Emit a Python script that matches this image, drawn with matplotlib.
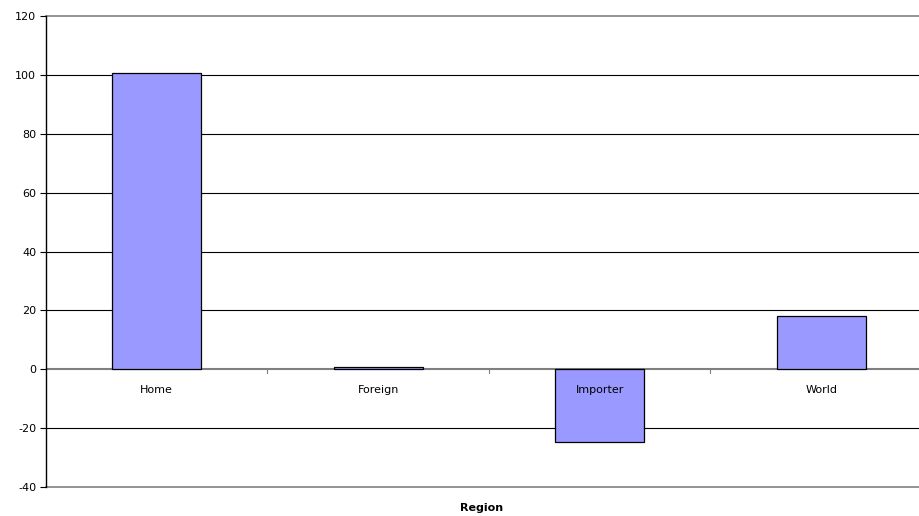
import matplotlib
matplotlib.use("Agg")
import matplotlib.pyplot as plt

regions = ["Home", "Foreign", "Importer", "World"]
values = [100.5, 0.6, -24.8, 18.0]
y_ticks = [-40, -20, 0, 20, 40, 60, 80, 100, 120]

plt.rcParams["font.family"] = ["DejaVu Sans"]

fig = plt.figure(figsize=(9.2, 5.16), dpi=100)
# plot area runs slightly past the right edge of the canvas
ax = fig.add_axes([46 / 920, 1 - 487 / 516, 886 / 920, (487 - 16) / 516])

x = list(range(len(regions)))
ax.bar(x, values, width=0.40, color="#9999FF", edgecolor="#000000", linewidth=0.9, zorder=3)

ax.set_xlim(-0.5, len(regions) - 0.5)
ax.set_ylim(-40, 120)
ax.set_yticks(y_ticks)
ax.set_yticklabels([str(v) for v in y_ticks], fontsize=8)
ax.tick_params(axis="y", length=4, width=0.8, color="#000000", pad=3)

# horizontal gridlines
for v in y_ticks:
    if v in (0, 120, -40):
        continue
    ax.axhline(v, color="#000000", linewidth=0.8, zorder=1)
for v in (120, -40):
    ax.axhline(v, color="#808080", linewidth=1.2, zorder=1, clip_on=False)

# category axis drawn at zero
ax.axhline(0, color="#808080", linewidth=1.5, zorder=2)
ax.set_xticks([])
for b in [0.5, 1.5, 2.5]:
    ax.plot([b, b], [0, -1.4], color="#808080", linewidth=0.8, zorder=2, clip_on=False)
for xi, name in zip(x, regions):
    ax.text(xi, -7.0, name, ha="center", va="center", fontsize=8, zorder=4)

for side in ["top", "right", "bottom"]:
    ax.spines[side].set_visible(False)
ax.spines["left"].set_color("#000000")
ax.spines["left"].set_linewidth(1.0)

fig.text(482 / 920, 1 - 508 / 516, "Region", ha="center", va="center",
         fontsize=8, fontweight="bold")

fig.savefig("out.png", dpi=100)
